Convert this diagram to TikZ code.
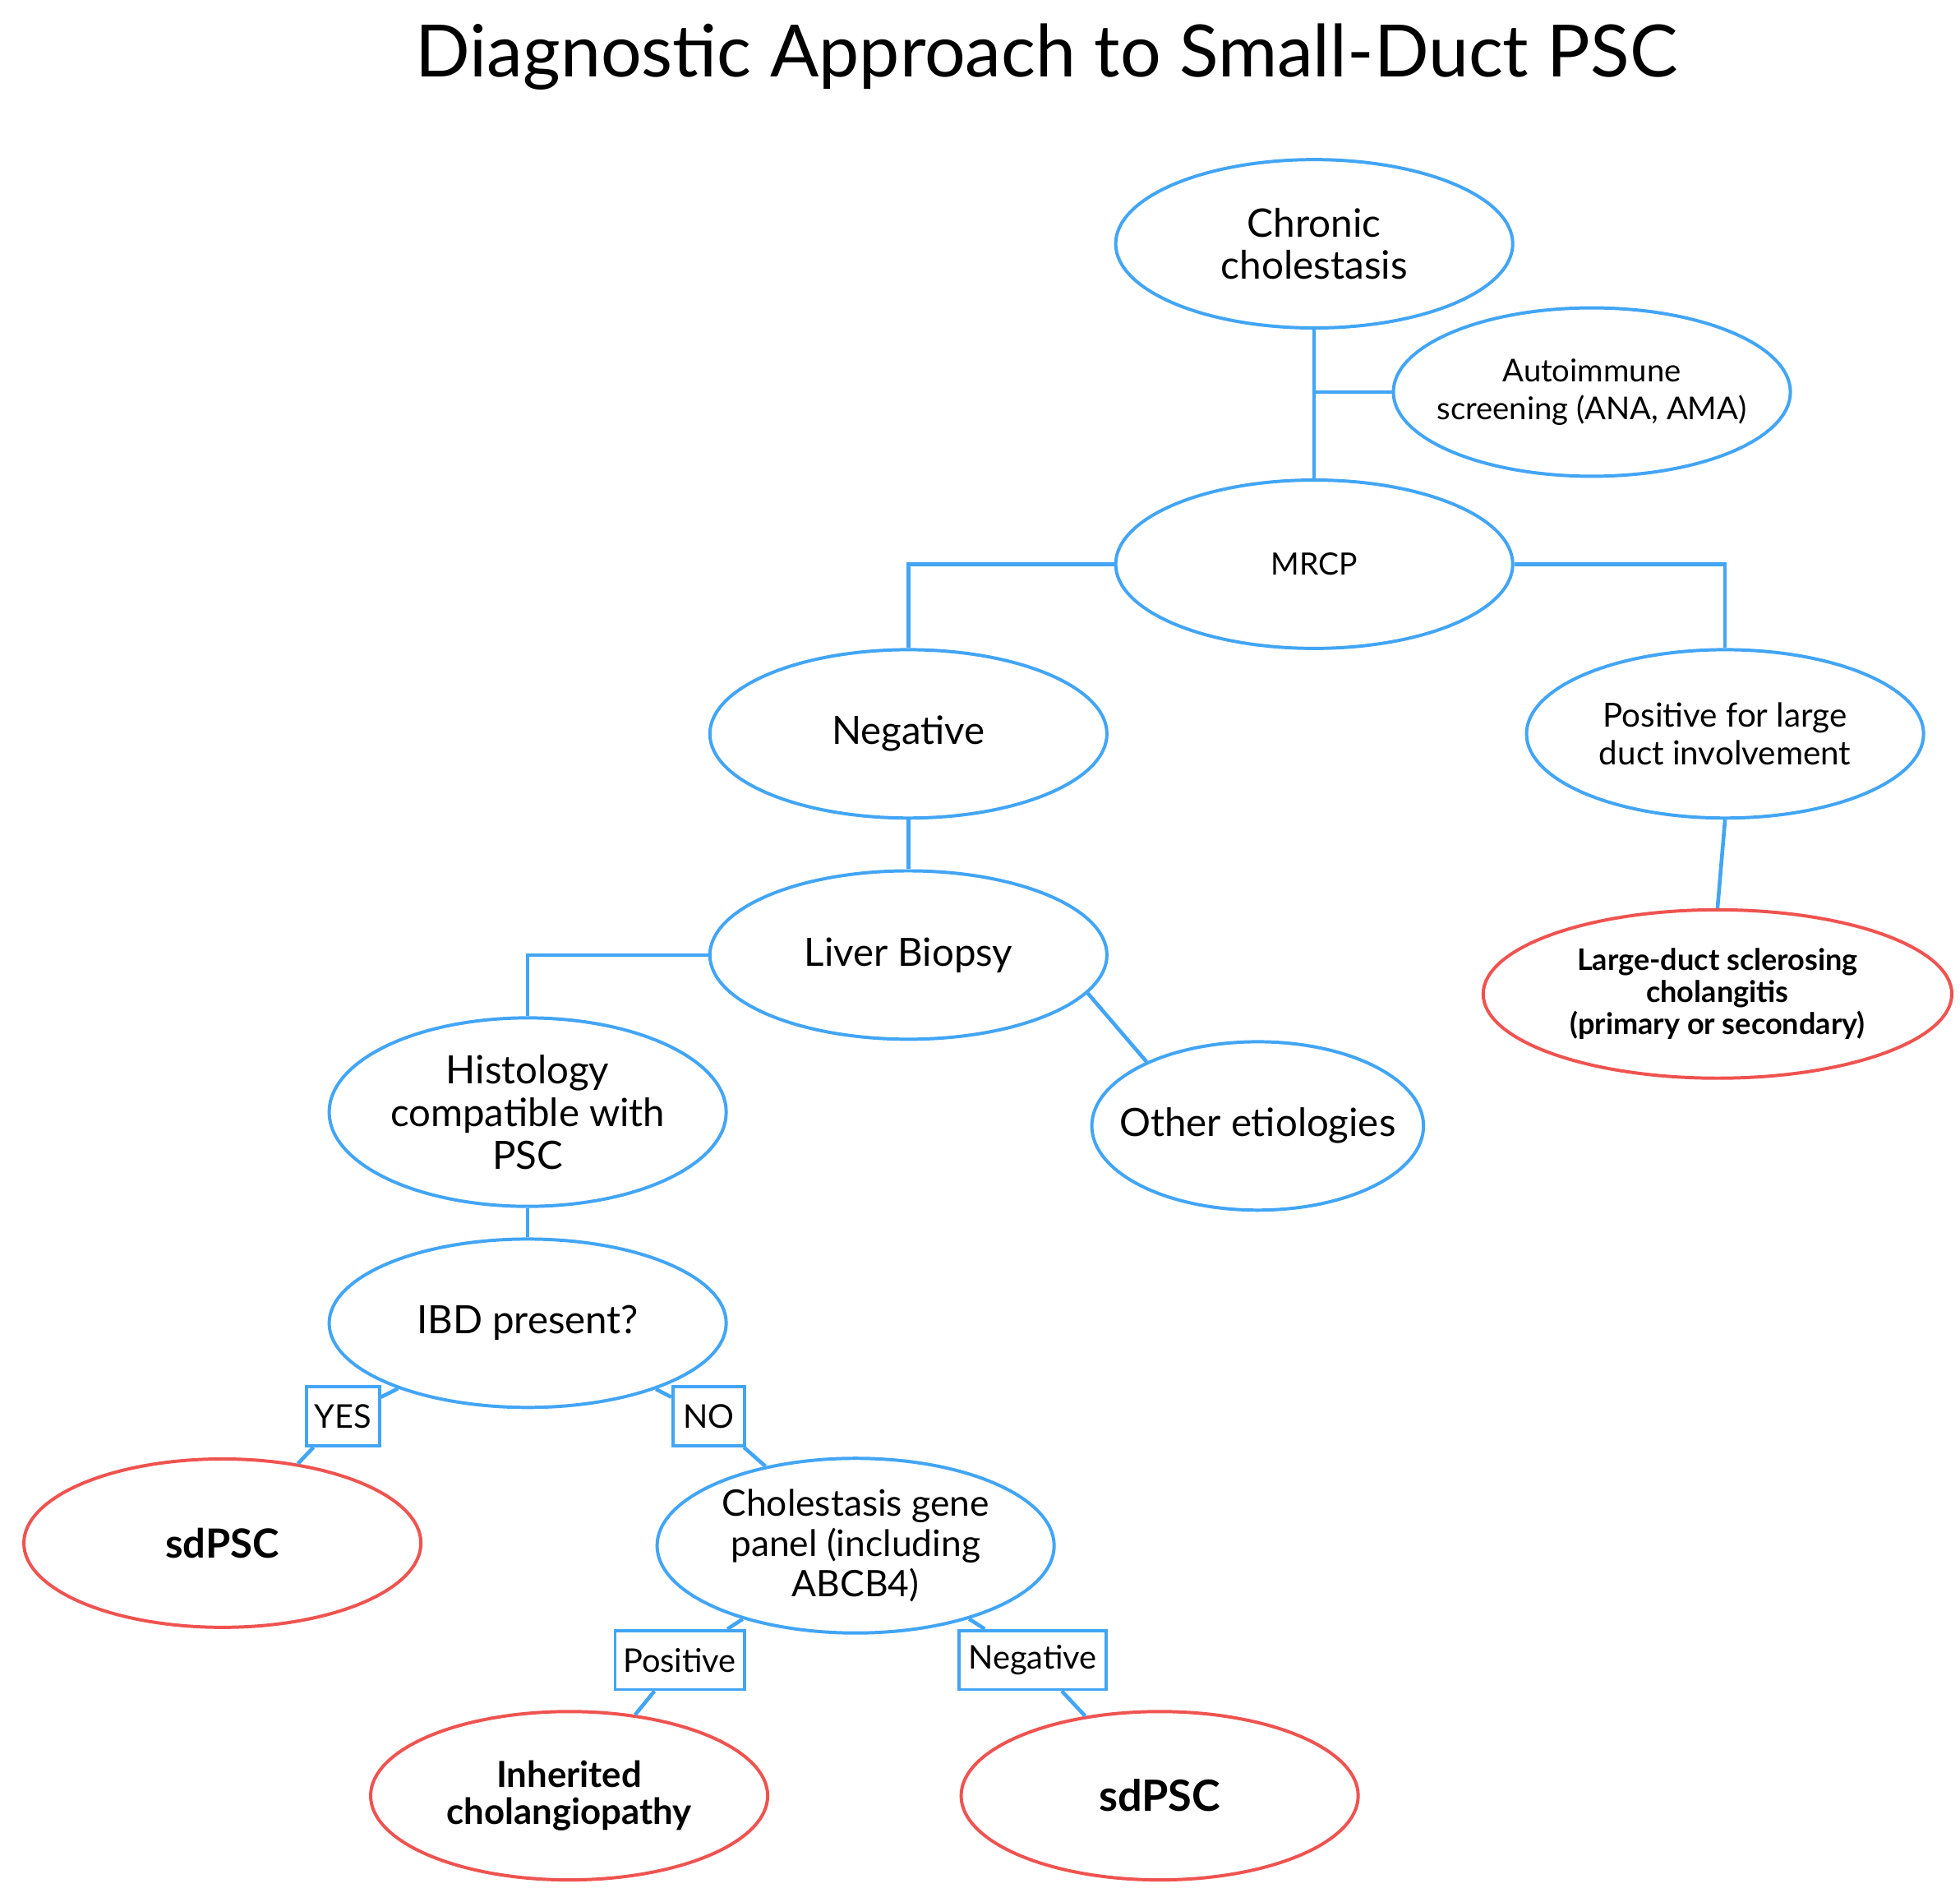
\documentclass[tikz,border=0pt]{standalone}
\usepackage{fontspec}
\setmainfont{Lato}
\usetikzlibrary{shapes.geometric}
\definecolor{nodeblue}{RGB}{66,165,245}
\definecolor{nodered}{RGB}{239,83,80}
\begin{document}
\begin{tikzpicture}[x=0.5pt,y=-0.5pt,
	bluenode/.style={ellipse, draw=nodeblue, line width=1.3pt, minimum width=158pt, minimum height=67pt, inner sep=0pt, align=center},
	rednode/.style={bluenode, draw=nodered},
	answer/.style={rectangle, draw=nodeblue, line width=1.2pt, fill=white, minimum height=23.5pt, inner xsep=3pt, inner ysep=0pt, font=\fontsize{13}{15}\selectfont},
	link/.style={draw=nodeblue, line width=1.5pt},
	bigtxt/.style={font=\fontsize{15.5}{17}\selectfont}
	]
	
	\useasboundingbox (0,0) rectangle (1560,1513);
	\node (title) at (833,45) {\fontsize{28.7}{32}\selectfont Diagnostic Approach to Small-Duct PSC};
	
	\node[bluenode, font=\fontsize{15.6}{16.5}\selectfont] (chronic) at (1046,194) {Chronic\\cholestasis};
	\node[bluenode, inner xsep=-7pt, font=\fontsize{12.5}{15}\selectfont] (auto) at (1267,312) {Autoimmune\\screening (ANA, AMA)};
	\node[bluenode, font=\fontsize{12.2}{13}\selectfont] (mrcp) at (1046,449) {MRCP};
	\node[bluenode, bigtxt] (neg) at (723,584) {Negative};
	\node[bluenode, font=\fontsize{13.2}{14.8}\selectfont] (pos) at (1373,584) {Positive for large\\duct involvement};
	\node[rednode, minimum width=186.5pt, font=\bfseries\fontsize{11.8}{12.75}\selectfont] (large) at (1367,791) {Large-duct sclerosing\\cholangitis\\(primary or secondary)};
	\node[bluenode, bigtxt] (biopsy) at (723,760) {Liver Biopsy};
	\node[bluenode, bigtxt, minimum height=75pt] (histo) at (420,885) {Histology\\compatible with\\PSC};
	\node[bluenode, bigtxt, minimum width=132pt, inner xsep=-9pt] (other) at (1001,896) {Other etiologies};
	\node[bluenode, bigtxt] (ibd) at (420,1053) {IBD present?};
	\node[rednode, font=\bfseries\fontsize{16}{17}\selectfont] (sdpscL) at (177,1228) {sdPSC};
	\node[bluenode, minimum height=69.5pt, font=\fontsize{14.5}{16}\selectfont] (gene) at (681,1230) {Cholestasis gene\\panel (including\\ABCB4)};
	\node[rednode, font=\bfseries\fontsize{14.3}{15}\selectfont] (inherit) at (453,1429) {Inherited\\cholangiopathy};
	\node[rednode, font=\bfseries\fontsize{17.1}{18}\selectfont] (sdpscR) at (923,1429) {sdPSC};
	
	% answer boxes
	\node[answer, minimum width=29pt] (yes) at (273,1127) {YES};
	\node[answer, minimum width=28.5pt] (no) at (564,1127) {NO};
	\node[answer, minimum width=51.5pt] (posbox) at (541,1321) {Positive};
	\node[answer, minimum width=58.5pt] (negbox) at (822,1321) {Negative};
	
	\draw[link] (chronic.south) -- (mrcp.north);
	\draw[link] (auto.west) -- (auto.west -| chronic.south);
	\draw[link] (mrcp.west) -| (neg.north);
	\draw[link] (mrcp.east) -| (pos.north);
	\draw[link] (pos.south) -- (large.north);
	\draw[link] (neg.south) -- (biopsy.north);
	\draw[link] (biopsy.west) -| (histo.north);
	\draw[link] (biopsy.-12) -- (other.150);
	\draw[link] (histo.south) -- (ibd.north);
	
	\draw[link] (ibd) -- (yes) -- (sdpscL);
	\draw[link] (ibd) -- (no) -- (gene);
	\draw[link] (gene) -- (posbox) -- (inherit);
	\draw[link] (gene) -- (negbox) -- (sdpscR);
	
\end{tikzpicture}
\end{document}
